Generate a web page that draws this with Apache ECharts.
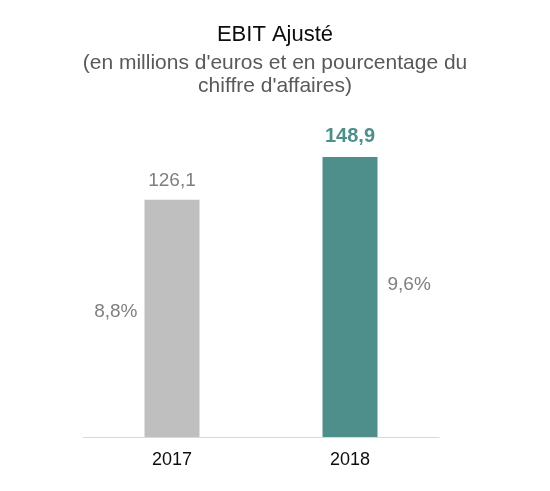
<!DOCTYPE html>
<html>
<head>
<meta charset="utf-8">
<script src="https://cdn.jsdelivr.net/npm/echarts@6/dist/echarts.min.js"></script>
<style>html,body{margin:0;padding:0;background:#fff}#c{width:550px;height:491px}</style>
</head>
<body>
<div id="c"></div>
<script>
const categories = ['2017', '2018'];
const ebitValues = [126.1, 148.9];
const ebitLabels = ['126,1', '148,9'];
const pctLabels = ['8,8%', '9,6%'];
const barColors = ['#BFBFBF', '#4E8F8C'];
const titleText = 'EBIT Ajusté';
const subtitleLines = ["(en millions d'euros et en pourcentage du", "chiffre d'affaires)"];

const FONT = '"Liberation Sans", Arial, sans-serif';
const chart = echarts.init(document.getElementById('c'));

const mainData = ebitValues.map((v, i) => ({
  value: v,
  itemStyle: { color: barColors[i] },
  label: i === 1
    ? { color: '#4E8F8C', fontWeight: 'bold', fontSize: 20, distance: 11 }
    : { color: '#7F7F7F', fontWeight: 'normal', fontSize: 19, distance: 10 }
}));

const pctData = ebitValues.map((v, i) => ({
  value: v,
  label: i === 0
    ? { position: 'left', distance: 7, offset: [0, -7] }
    : { position: 'right', distance: 10, offset: [0, -12] }
}));

const subStyle = { fontFamily: FONT, fontSize: 21, fontWeight: 'normal', color: '#595959', lineHeight: 23 };

chart.setOption({
  animation: false,
  title: [
    {
      text: titleText,
      left: 'center', top: 22, padding: 0,
      textStyle: { fontFamily: FONT, fontSize: 22, fontWeight: 'normal', color: '#0D0D0D', lineHeight: 26 }
    },
    { text: subtitleLines[0], left: 'center', top: 51.5, padding: 0, textStyle: subStyle },
    { text: subtitleLines[1], left: 'center', top: 74.5, padding: 0, textStyle: subStyle }
  ],
  grid: { left: 83, right: 111, top: 98.5, bottom: 54 },
  xAxis: {
    type: 'category',
    data: categories,
    axisLine: { lineStyle: { color: '#D9D9D9', width: 1 } },
    axisTick: { show: false },
    axisLabel: { fontFamily: FONT, fontSize: 18, color: '#0D0D0D', margin: 14 }
  },
  yAxis: {
    type: 'value', min: 0, max: 180,
    show: false,
    splitLine: { show: false }
  },
  series: [
    {
      type: 'bar',
      data: mainData,
      barWidth: 55,
      barGap: '-100%',
      label: {
        show: true, position: 'top', fontFamily: FONT,
        formatter: p => ebitLabels[p.dataIndex]
      }
    },
    {
      type: 'bar',
      data: pctData,
      barWidth: 55,
      barGap: '-100%',
      itemStyle: { color: 'rgba(0,0,0,0)' },
      label: {
        show: true, fontFamily: FONT, fontSize: 19, color: '#7F7F7F',
        formatter: p => pctLabels[p.dataIndex]
      },
      silent: true
    }
  ]
});
</script>
</body>
</html>
